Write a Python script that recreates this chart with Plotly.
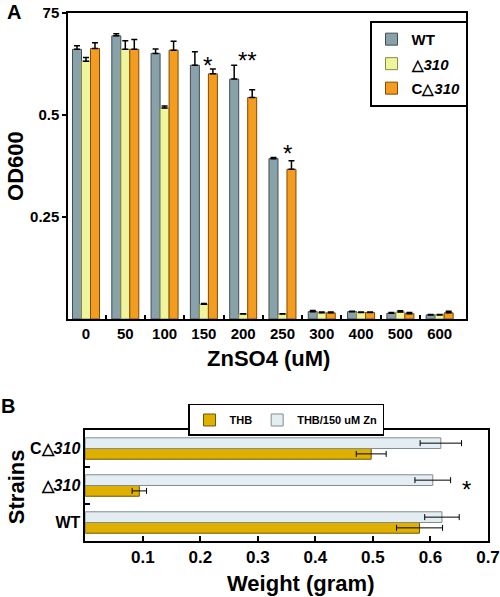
import plotly.graph_objects as go

# ---------- Panel A data ----------
conc_labels = ["0", "50", "100", "150", "200", "250", "300", "400", "500", "600"]
wt_od = [0.661, 0.694, 0.651, 0.622, 0.588, 0.393, 0.018, 0.018, 0.014, 0.010]
wt_err = [0.009, 0.005, 0.011, 0.033, 0.034, 0.003, 0.003, 0.001, 0.002, 0.001]
d310_od = [0.632, 0.661, 0.517, 0.036, 0.012, 0.012, 0.015, 0.016, 0.017, 0.010]
d310_err = [0.009, 0.021, 0.005, 0.002, 0.001, 0.001, 0.002, 0.001, 0.003, 0.001]
c310_od = [0.663, 0.661, 0.659, 0.601, 0.543, 0.367, 0.015, 0.016, 0.013, 0.015]
c310_err = [0.014, 0.024, 0.022, 0.012, 0.019, 0.021, 0.002, 0.001, 0.003, 0.004]
a_yticks = [0.25, 0.5, 0.75]
a_yticktext = ["0.25", "0.5", "75"]

# ---------- Panel B data ----------
strain_labels = ["<b>WT</b>", "<b>△<i>310</i></b>", "<b>C△<i>310</i></b>"]
thb_weight = [0.581, 0.094, 0.497]
thb_err = [0.040, 0.0125, 0.026]
zn_weight = [0.620, 0.604, 0.618]
zn_err = [0.030, 0.031, 0.036]
b_xticks = [0.1, 0.2, 0.3, 0.4, 0.5, 0.6, 0.7]

FONT = "Liberation Sans, Arial, sans-serif"
xpos = list(range(len(conc_labels)))

fig = go.Figure()

def a_bar(name, vals, errs, fill, line, grp):
    fig.add_trace(go.Bar(
        x=xpos, y=vals, name=name, legend="legend", legendgroup=grp,
        marker=dict(color=fill, line=dict(color=line, width=1)),
        error_y=dict(type="data", symmetric=False, array=errs,
                     arrayminus=[0] * len(errs), color="black",
                     thickness=1.5, width=3),
        xaxis="x", yaxis="y"))

a_bar("<b>WT</b>", wt_od, wt_err, "#89a2a9", "#3f4f54", "g1")
a_bar("<b>△<i>310</i></b>", d310_od, d310_err, "#eef59c", "#8a8a48", "g2")
a_bar("<b>C△<i>310</i></b>", c310_od, c310_err, "#f39c1f", "#7e4c00", "g3")

ypos = [0, 1, 2]
fig.add_trace(go.Bar(
    y=ypos, x=thb_weight, orientation="h", name="<b>THB</b>", legend="legend2",
    width=0.29, offset=-0.29,
    marker=dict(color="#e0b000", line=dict(color="#6e5800", width=1)),
    error_x=dict(type="data", array=thb_err, color="black", thickness=1, width=3),
    xaxis="x2", yaxis="y2"))
fig.add_trace(go.Bar(
    y=ypos, x=zn_weight, orientation="h", name="<b>THB/150 uM Zn</b>", legend="legend2",
    width=0.29, offset=0.0,
    marker=dict(color="#e4edf1", line=dict(color="#7f8d92", width=1)),
    error_x=dict(type="data", array=zn_err, color="black", thickness=1, width=3),
    xaxis="x2", yaxis="y2"))

axline = dict(showline=True, linecolor="black", linewidth=1.5, mirror=True,
              showgrid=False, zeroline=False, automargin=False)

fig.update_layout(
    width=500, height=597, margin=dict(l=0, r=0, t=0, b=0, pad=0),
    paper_bgcolor="white", plot_bgcolor="white",
    font=dict(family=FONT, color="black"),
    barmode="group", bargap=0.313, bargroupgap=0,
    xaxis=dict(domain=[0.136, 0.932], anchor="y", range=[-0.458, 9.67],
               tickmode="array", tickvals=xpos,
               ticktext=["<b>%s</b>" % c for c in conc_labels],
               ticks="", tickfont=dict(size=15, family=FONT),
               minor=dict(tickvals=[i + 0.5 for i in range(9)], ticks="inside",
                          ticklen=4, tickcolor="black", tickwidth=1.5),
               **axline),
    yaxis=dict(domain=[0.4657, 0.9782], anchor="x", range=[0, 0.75],
               tickmode="array", tickvals=a_yticks,
               ticktext=["<b>%s</b>" % t for t in a_yticktext],
               ticks="outside", ticklen=4, tickcolor="black", tickwidth=1.5,
               tickfont=dict(size=15, family=FONT), **axline),
    xaxis2=dict(domain=[0.1705, 0.976], anchor="y2", range=[0, 0.7],
                tickmode="array", tickvals=b_xticks,
                ticktext=["<b>%g</b>" % t for t in b_xticks],
                ticks="inside", ticklen=5, tickcolor="black", tickwidth=1.5,
                tickfont=dict(size=17, family=FONT), **axline),
    yaxis2=dict(domain=[0.0938, 0.2797], anchor="x2", range=[-0.5, 2.5],
                tickmode="array", tickvals=ypos, ticktext=strain_labels,
                ticks="", tickfont=dict(size=16, family=FONT),
                minor=dict(tickvals=[0.5, 1.5], ticks="inside", ticklen=5,
                           tickcolor="black", tickwidth=1.5),
                **axline),
    legend=dict(x=0.837, xanchor="center", y=0.965, yanchor="top",
                bordercolor="black", borderwidth=2, bgcolor="white",
                font=dict(size=15, family=FONT), itemwidth=30,
                tracegroupgap=2),
    legend2=dict(x=0.572, xanchor="center", y=0.3233, yanchor="top",
                 orientation="h", bordercolor="black", borderwidth=1.5,
                 bgcolor="white", font=dict(size=11, family=FONT), itemwidth=30),
    showlegend=True,
)

ann = []
def txt(text, x, y, size, xref="paper", yref="paper", angle=0, bold=True):
    ann.append(dict(text=("<b>%s</b>" % text) if bold else text, x=x, y=y,
                    xref=xref, yref=yref, showarrow=False, textangle=angle,
                    font=dict(size=size, family=FONT, color="black"),
                    xanchor="center", yanchor="middle"))

txt("A", 0.028, 0.98, 20)
txt("B", 0.016, 0.32, 20)
txt("ZnSO4 (uM)", 0.536, 0.4003, 22)
txt("OD600", 0.032, 0.722, 22, angle=-90)
txt("Weight (gram)", 0.6, 0.0218, 22)
txt("Strains", 0.032, 0.184, 22, angle=-90)
# significance marks
txt("*", 3.10, 0.622, 24, xref="x", yref="y", bold=False)
txt("**", 4.12, 0.634, 24, xref="x", yref="y", bold=False)
txt("*", 5.14, 0.406, 24, xref="x", yref="y", bold=False)
txt("*", 0.663, 0.9, 24, xref="x2", yref="y2", bold=False)
fig.update_layout(annotations=ann)

fig.write_html("out.html", config={"displayModeBar": False},
               post_script="document.body.style.margin='0';document.body.style.overflow='hidden';")
